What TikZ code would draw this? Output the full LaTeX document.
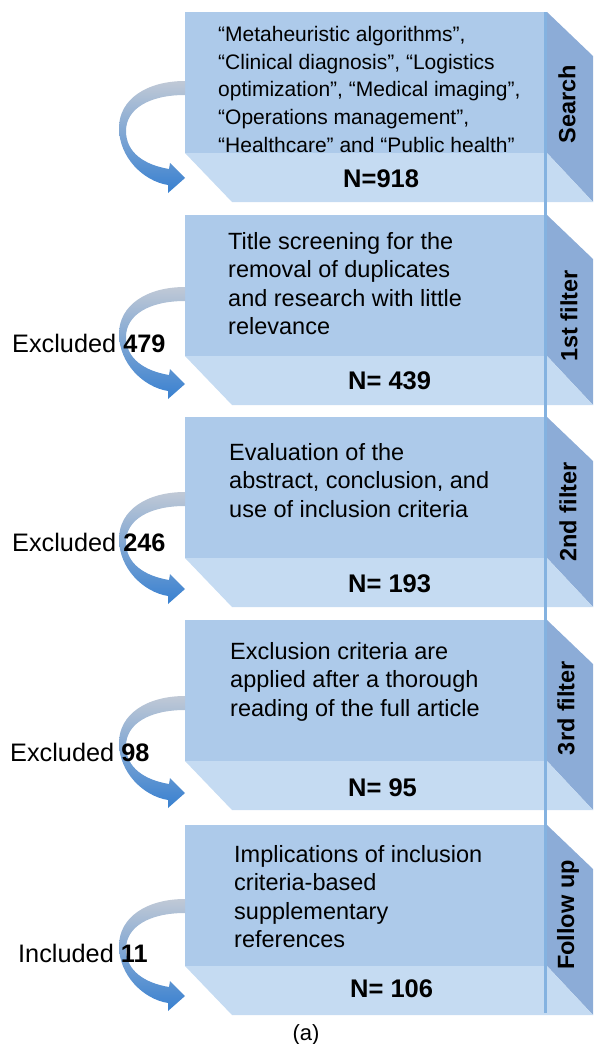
\documentclass[tikz,border=0pt]{standalone}
\usepackage{fontspec}
\setmainfont{Liberation Sans}
\usepackage{tikz}

\definecolor{facetop}{RGB}{173,202,234}
\definecolor{faceband}{RGB}{197,219,242}
\definecolor{faceside}{RGB}{140,172,215}
\definecolor{sideline}{RGB}{132,178,224}
\definecolor{curlgray}{RGB}{192,201,214}
\definecolor{curlblue}{RGB}{56,128,208}

\tikzset{
  stage/.pic={
    \fill[facetop] (0,0) rectangle (362,141);
    \fill[faceband] (0,141) -- (362,141) -- (362,190) -- (47,190) -- cycle;
    \fill[faceside] (362,0) -- (408,44) -- (408,190) -- (362,141) -- cycle;
    \fill[faceband] (362,141) -- (408,190) -- (362,190) -- cycle;
  },
  curl/.pic={
    \shade[top color=curlgray, bottom color=curlblue]
      (0,0) .. controls (-38,0) and (-66,18) .. (-66,47)
      .. controls (-66,76) and (-42,100) .. (-17,104)
      -- (-17,112) -- (0,97) -- (-15,82) -- (-16,88)
      .. controls (-40,84) and (-59,72) .. (-59,50)
      .. controls (-59,28) and (-36,14) .. (0,14) -- cycle;
  },
  boxtext/.style={anchor=north west, inner sep=0pt, align=left,
    font=\fontsize{23.5}{28.5}\selectfont},
  tally/.style={anchor=west, inner sep=0pt, font=\bfseries\fontsize{25.5}{30}\selectfont},
  phasetext/.style={rotate=90, inner sep=0pt, font=\bfseries\fontsize{23.5}{28}\selectfont},
  droptext/.style={anchor=west, inner sep=0pt, font=\fontsize{25.3}{30}\selectfont},
}

\begin{document}
\begin{tikzpicture}[x=1pt, y=-1pt]

  \useasboundingbox (0,0) rectangle (595,1044);

  % Define the stage boxes
  \pic at (185,12)  {stage};
  \pic at (185,215) {stage};
  \pic at (185,417) {stage};
  \pic at (185,620) {stage};
  \pic at (185,825) {stage};
  \draw[sideline, line width=3pt] (545.5,12) -- (545.5,1013);

  % Curved arrows
  \coordinate (c1) at (185,81);
  \coordinate (c2) at (185,287);
  \coordinate (c3) at (185,492);
  \coordinate (c4) at (185,696);
  \coordinate (c5) at (185,899);
  \pic at (c1) {curl};
  \pic at (c2) {curl};
  \pic at (c3) {curl};
  \pic at (c4) {curl};
  \pic at (c5) {curl};

  % Texts in the boxes
  \node[boxtext, font=\fontsize{21}{27.7}\selectfont] (search) at (218,26)
    {“Metaheuristic algorithms”,\\“Clinical diagnosis”, “Logistics\\optimization”, “Medical imaging”,\\“Operations management”,\\“Healthcare” and “Public health”};
  \node[boxtext] (filter1) at (228,232) {Title screening for the\\removal of duplicates\\and research with little\\relevance};
  \node[boxtext] (filter2) at (229,443) {Evaluation of the\\abstract, conclusion, and\\use of inclusion criteria};
  \node[boxtext] (filter3) at (230,642) {Exclusion criteria are\\applied after a thorough\\reading of the full article};
  \node[boxtext] (follow) at (234,845) {Implications of inclusion\\criteria-based\\supplementary\\references};

  % Counts
  \node[tally] (n1) at (343,179) {N=918};
  \node[tally] (n2) at (348,381) {N= 439};
  \node[tally] (n3) at (348,584) {N= 193};
  \node[tally] (n4) at (348,788) {N= 95};
  \node[tally] (n5) at (350,989) {N= 106};

  % Phase labels
  \node[phasetext] (p1) at (567,104) {Search};
  \node[phasetext] (p2) at (569,316) {1st filter};
  \node[phasetext] (p3) at (568,512) {2nd filter};
  \node[phasetext] (p4) at (566,708) {3rd filter};
  \node[phasetext] (p5) at (568,915) {Follow up};

  % Excluded and included
  \node[droptext] (d2) at (12,343) {Excluded \textbf{479}};
  \node[droptext] (d3) at (12,542) {Excluded \textbf{246}};
  \node[droptext] (d4) at (10,752) {Excluded \textbf{98}};
  \node[droptext] (d5) at (18,953) {Included \textbf{11}};

  \node[font=\fontsize{22}{26}\selectfont, inner sep=0pt] (caption) at (306,1035) {(a)};

\end{tikzpicture}
\end{document}
